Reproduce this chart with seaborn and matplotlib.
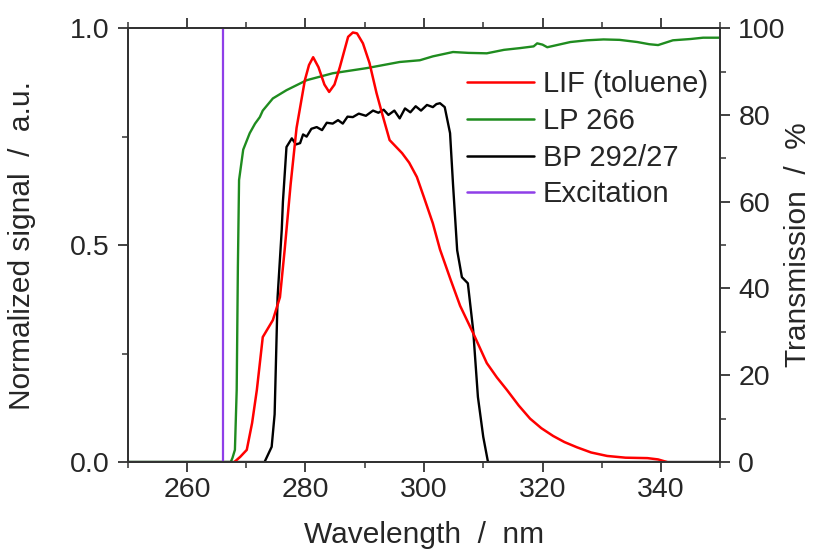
import numpy as np
import pandas as pd
import matplotlib
matplotlib.use("Agg")
import matplotlib.pyplot as plt
from matplotlib.lines import Line2D
from matplotlib.ticker import MultipleLocator
import seaborn as sns

# LIF spectrum of toluene (normalized, left axis)
lif_wl = [268.0, 269.0, 270.1, 271.0, 271.8, 272.8, 274.5, 275.7, 276.5, 277.5, 278.5, 279.9,
          280.6, 281.3, 282.2, 283.2, 284.0, 284.9, 285.8, 287.2, 288.0, 288.7, 289.7, 290.8,
          292.0, 293.0, 294.2, 296.3, 297.5, 298.8, 300.0, 301.5, 302.7, 304.5, 306.1, 308.3,
          310.6, 312.3, 314.0, 316.0, 317.9, 319.8, 321.8, 323.7, 325.8, 328.2, 330.9, 334.0,
          337.7, 339.5, 341.0]
lif_sig = [0.0, 0.012, 0.028, 0.09, 0.166, 0.288, 0.327, 0.38, 0.49, 0.64, 0.77, 0.88,
           0.915, 0.933, 0.91, 0.87, 0.853, 0.87, 0.91, 0.98, 0.99, 0.988, 0.965, 0.92,
           0.85, 0.80, 0.742, 0.712, 0.69, 0.657, 0.61, 0.55, 0.49, 0.42, 0.36, 0.297,
           0.228, 0.195, 0.166, 0.13, 0.100, 0.078, 0.060, 0.046, 0.034, 0.022, 0.014, 0.010,
           0.009, 0.006, 0.0]

# Long-pass filter LP 266 (transmission %, right axis)
lp_wl = [250.0, 267.4, 267.7, 268.1, 268.4, 268.6, 268.8, 269.5, 270.6, 271.5, 272.3, 272.8,
         274.5, 276.8, 280.2, 284.6, 290.4, 295.9, 299.3, 301.5, 304.9, 307.5, 310.6, 313.5,
         316.2, 318.5, 319.1, 320.0, 320.8, 324.7, 327.5, 330.3, 333.0, 336.0, 338.0, 339.5,
         342.0, 345.0, 347.1, 350.0]
lp_tr = [0.0, 0.0, 1.0, 2.8, 16.6, 45.0, 65.0, 72.0, 75.8, 78.0, 79.5, 81.0,
         83.8, 85.7, 88.0, 89.6, 90.8, 92.2, 92.6, 93.5, 94.5, 94.3, 94.2, 95.0,
         95.4, 95.8, 96.5, 96.2, 95.6, 96.8, 97.2, 97.4, 97.3, 96.8, 96.3, 96.1,
         97.2, 97.5, 97.8, 97.8]

# Band-pass filter BP 292/27 (transmission %, right axis)
bp_wl = [250.0, 273.1, 274.3, 274.8, 275.3, 276.0, 276.2, 276.8, 277.7, 278.4, 279.1, 279.6,
         280.2, 281.0, 281.9, 282.8, 283.6, 284.6, 285.5, 286.3, 287.1, 288.0, 289.0, 290.2,
         291.4, 292.3, 293.2, 294.0, 295.0, 295.9, 296.8, 297.7, 298.6, 299.5, 300.5, 301.5,
         302.1, 302.7, 303.5, 304.4, 304.9, 305.6, 306.4, 307.4, 308.3, 309.1, 310.0, 310.8, 350.0]
bp_tr = [0.0, 0.0, 3.5, 11.0, 38.0, 53.5, 60.0, 72.6, 74.6, 73.2, 73.5, 75.5,
         75.0, 76.8, 77.2, 76.5, 78.2, 78.0, 78.8, 78.0, 79.6, 79.5, 80.3, 79.8,
         81.0, 80.5, 81.2, 80.0, 81.0, 79.2, 81.5, 80.6, 82.0, 81.0, 82.3, 81.8,
         82.5, 82.7, 81.8, 75.8, 64.0, 48.8, 42.6, 41.2, 30.4, 15.0, 5.8, 0.0, 0.0]

excitation_wl = 266.1

labels = ["LIF (toluene)", "LP 266", "BP 292/27", "Excitation"]
colors = ["#ff0000", "#1f8c1f", "#000000", "#8f3fe8"]

sns.set_style("ticks")
plt.rcParams["font.family"] = ["Liberation Sans", "DejaVu Sans"]
plt.rcParams["font.size"] = 20

fig = plt.figure(figsize=(8.13, 5.52), dpi=100)
ax = fig.add_axes([0.157, 0.163, 0.729, 0.786])
ax2 = ax.twinx()
ax.set_zorder(ax2.get_zorder() + 1)
ax.patch.set_visible(False)

df_lif = pd.DataFrame({"wl": lif_wl, "sig": lif_sig})
df_lp = pd.DataFrame({"wl": lp_wl, "tr": lp_tr})
df_bp = pd.DataFrame({"wl": bp_wl, "tr": bp_tr})

sns.lineplot(data=df_lp, x="wl", y="tr", ax=ax2, color=colors[1], lw=1.7, sort=False)
sns.lineplot(data=df_bp, x="wl", y="tr", ax=ax2, color=colors[2], lw=1.7, sort=False)
sns.lineplot(data=df_lif, x="wl", y="sig", ax=ax, color=colors[0], lw=1.8, sort=False)
ax.axvline(excitation_wl, color=colors[3], lw=1.6)

ax.set_xlim(250, 350)
ax.set_ylim(0, 1.0)
ax2.set_ylim(0, 100)

ax.set_xticks([260, 280, 300, 320, 340])
ax.xaxis.set_minor_locator(MultipleLocator(10))
ax.yaxis.set_major_locator(MultipleLocator(0.5))
ax.yaxis.set_minor_locator(MultipleLocator(0.25))
ax2.yaxis.set_major_locator(MultipleLocator(20))
ax2.yaxis.set_minor_locator(MultipleLocator(10))

ax.tick_params(axis="x", which="both", top=True, direction="out", labelsize=20.5, pad=4)
ax.tick_params(axis="y", which="both", direction="out", labelsize=20.5, pad=6)
ax2.tick_params(axis="y", which="both", direction="out", labelsize=20.5, pad=6)
for a in (ax, ax2):
    a.tick_params(which="major", length=7, width=1.3, color="#333333")
    a.tick_params(which="minor", length=4, width=1.1, color="#333333")
    for s in a.spines.values():
        s.set_linewidth(1.4)
        s.set_color("#333333")

ax.set_xlabel("Wavelength  /  nm", fontsize=21.5)
ax.set_ylabel("Normalized signal  /  a.u.", fontsize=21.5)
ax2.set_ylabel("Transmission  /  %", fontsize=21.5)
ax2.set_xlabel("")
ax.xaxis.set_label_coords(0.5, -0.137)
ax.yaxis.set_label_coords(-0.155, 0.5)
ax2.yaxis.set_label_coords(1.108, 0.5)

handles = [Line2D([0], [0], color=c, lw=1.8) for c in colors]
ax.legend(handles, labels, loc="upper left", bbox_to_anchor=(0.573, 0.903), frameon=False,
          fontsize=21, handlelength=2.3, handletextpad=0.3, labelspacing=0.3,
          borderpad=0, borderaxespad=0)

fig.savefig("out.png", dpi=100)
